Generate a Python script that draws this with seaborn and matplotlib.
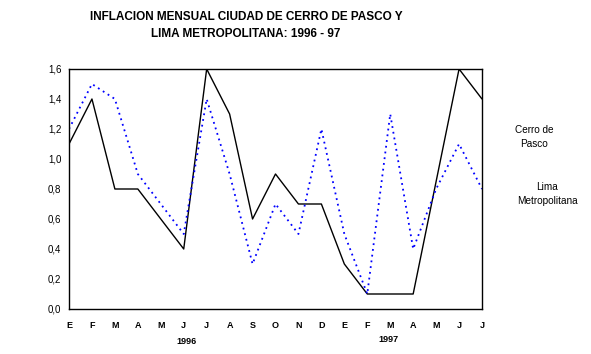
import matplotlib
matplotlib.use("Agg")
import matplotlib.pyplot as plt
import seaborn as sns
import pandas as pd
import numpy as np

months = ["E", "F", "M", "A", "M", "J", "J", "A", "S", "O", "N", "D",
          "E", "F", "M", "A", "M", "J", "J"]
cerro = [1.1, 1.4, 0.8, 0.8, 0.6, 0.4, 1.6, 1.3, 0.6, 0.9, 0.7, 0.7,
         0.3, 0.1, 0.1, 0.1, 0.85, 1.6, 1.4]
lima = [1.2, 1.5, 1.4, 0.9, 0.7, 0.5, 1.4, 0.9, 0.3, 0.7, 0.5, 1.2,
        0.5, 0.1, 1.3, 0.4, 0.8, 1.1, 0.8]
yticks = [0.0, 0.2, 0.4, 0.6, 0.8, 1.0, 1.2, 1.4, 1.6]
title = "INFLACION MENSUAL CIUDAD DE CERRO DE PASCO Y\nLIMA METROPOLITANA: 1996 - 97"

sns.set_style("white")
plt.rcParams['font.family'] = ['Liberation Sans', 'DejaVu Sans']
plt.rcParams['text.color'] = 'black'
plt.rcParams['xtick.color'] = 'black'
plt.rcParams['ytick.color'] = 'black'

idx = np.arange(len(months))
df = pd.DataFrame({"idx": idx, "cerro": cerro, "lima": lima})

fig = plt.figure(figsize=(5.91, 3.54), dpi=100)
ax = fig.add_axes([69/591, 1 - 309/354, (482-69)/591, (309-69)/354])

sns.lineplot(data=df, x="idx", y="cerro", ax=ax, color="black", linewidth=1.0)
sns.lineplot(data=df, x="idx", y="lima", ax=ax, color="#0000ff", linewidth=1.3,
             linestyle=(0, (1, 2.2)))

ax.set_xlim(0, len(months) - 1)
ax.set_ylim(0, 1.6)
ax.set_xticks(idx)
ax.set_xticklabels(months, fontsize=6.5, fontweight="bold")
ax.set_yticks(yticks)
ax.set_yticklabels([f"{v:.1f}".replace(".", ",") for v in yticks], fontsize=7)
ax.tick_params(axis="x", direction="inout", length=5, width=0.8, pad=6,
               colors="black", labelcolor="black")
ax.tick_params(axis="y", direction="inout", length=5, width=0.8, pad=3,
               colors="black", labelcolor="black")
ax.set_xlabel("")
ax.set_ylabel("")
for s in ax.spines.values():
    s.set_color("black")
    s.set_linewidth(1.0)

fig.text(187/591, 1 - 341/354, "1996", fontsize=6.5, fontweight="bold", ha="center",
         va="center", color="black")
fig.text(388/591, 1 - 340/354, "1997", fontsize=6.5, fontweight="bold", ha="center",
         va="center", color="black")

fig.text(534/591, 1 - 137/354, "Cerro de\nPasco", fontsize=7.2, ha="center", va="center",
         linespacing=1.45, color="black")
fig.text(547/591, 1 - 194/354, "Lima\nMetropolitana", fontsize=7.2, ha="center", va="center",
         linespacing=1.45, color="black")

fig.text(246/591, 1 - 25.5/354, title, fontsize=8.5, fontweight="bold", ha="center",
         va="center", linespacing=1.45, color="black")

fig.savefig("out.png", dpi=100)
